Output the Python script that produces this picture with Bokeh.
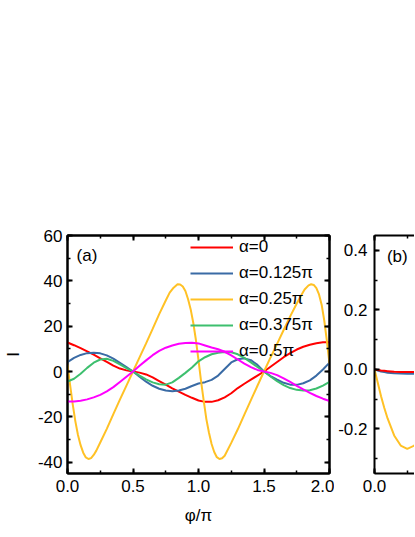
from bokeh.plotting import figure
from bokeh.models import (Range1d, LinearAxis, SingleIntervalTicker, NumeralTickFormatter,
                          CustomJSTickFormatter, Legend, LegendItem, Label)
from bokeh.layouts import row
from bokeh.embed import file_html
from bokeh.resources import INLINE

FONT = "Liberation Sans"

# ---------------- data ----------------
phi_a = [0.00, 0.05, 0.10, 0.15, 0.20, 0.25, 0.30, 0.35, 0.40, 0.45,
         0.50, 0.55, 0.60, 0.65, 0.70, 0.75, 0.80, 0.85, 0.90, 0.95,
         1.00, 1.05, 1.10, 1.15, 1.20, 1.25, 1.30, 1.35, 1.40, 1.45,
         1.50, 1.55, 1.60, 1.65, 1.70, 1.75, 1.80, 1.85, 1.90, 1.95, 2.00]

I_alpha_0 = [12.8, 11.6, 10.3, 8.9, 7.4, 5.8, 4.2, 2.6, 1.3, 0.5,
             0.0, -0.5, -1.3, -2.6, -4.2, -5.8, -7.4, -8.9, -10.3, -11.6,
             -12.8, -13.4, -13.4, -12.7, -11.4, -9.6, -7.3, -5.4, -3.6, -1.8,
             0.0, 2.1, 4.2, 6.3, 8.1, 9.7, 10.9, 11.8, 12.5, 12.9, 12.9]

I_alpha_0125 = [4.1, 6.0, 7.3, 8.1, 8.3, 8.0, 7.1, 5.7, 3.8, 1.9,
                0.0, -2.3, -4.5, -6.3, -7.6, -8.4, -8.7, -8.4, -7.6, -6.4,
                -5.3, -4.7, -3.7, -1.8, 1.1, 4.0, 5.4, 5.8, 5.0, 2.9,
                0.0, -2.0, -3.6, -5.0, -5.8, -5.9, -5.2, -3.9, -1.8, 0.9, 3.9]

I_alpha_0375 = [-4.4, -3.2, -1.0, 1.6, 3.9, 5.3, 5.6, 4.7, 3.1, 1.5,
                0.0, -1.8, -3.5, -4.8, -5.6, -5.8, -4.8, -2.8, -0.6, 1.8,
                4.5, 6.3, 7.6, 8.3, 8.6, 8.5, 7.6, 6.0, 4.0, 2.0,
                0.0, -2.2, -4.3, -6.0, -7.3, -8.1, -8.4, -8.3, -7.5, -6.2, -4.6]

I_alpha_05 = [-13.2, -13.2, -12.9, -12.3, -11.4, -10.3, -8.8, -6.9, -4.6, -2.3,
              0.0, 2.5, 4.9, 7.2, 9.1, 10.5, 11.5, 12.2, 12.6, 12.7,
              12.4, 11.5, 10.6, 9.8, 8.7, 7.1, 5.3, 3.5, 1.9, 0.7,
              0.0, -0.6, -1.6, -3.0, -4.6, -6.3, -7.9, -9.4, -10.8, -12.0, -13.0]

phi_y = [0.00, 0.02, 0.04, 0.06, 0.08, 0.10, 0.12, 0.14, 0.16, 0.18,
         0.20, 0.22, 0.25, 0.30, 0.35, 0.40, 0.45, 0.50, 0.55, 0.60,
         0.65, 0.70, 0.75, 0.78, 0.81, 0.84, 0.86, 0.88, 0.90, 0.92,
         0.94, 0.96, 0.98, 1.00, 1.02, 1.04, 1.06, 1.08, 1.10, 1.12,
         1.14, 1.16, 1.18, 1.20, 1.25, 1.30, 1.35, 1.40, 1.45, 1.50,
         1.55, 1.60, 1.65, 1.70, 1.75, 1.78, 1.81, 1.84, 1.86, 1.88,
         1.90, 1.92, 1.94, 1.96, 1.98, 2.00]

I_alpha_025 = [3.0, -6.0, -14.5, -22.0, -28.0, -32.5, -35.8, -37.9, -38.6, -38.2,
               -36.8, -34.9, -31.3, -25.3, -18.8, -12.4, -6.2, 0.0, 6.2, 12.4,
               18.8, 25.3, 31.3, 34.8, 37.0, 38.5, 38.4, 37.5, 35.5, 32.0,
               27.5, 21.5, 14.0, 5.0, -4.5, -13.0, -21.0, -27.0, -32.0, -35.5,
               -37.8, -38.6, -38.3, -37.2, -31.5, -25.5, -19.0, -12.6, -6.3, 0.0,
               6.2, 12.2, 18.3, 24.3, 30.0, 33.2, 36.2, 38.0, 38.5, 38.2,
               36.8, 34.0, 29.5, 22.5, 13.5, 3.5]

phi_b = [0.00, 0.025, 0.05, 0.075, 0.10, 0.15, 0.20, 0.25, 0.30, 0.35]
Ib_alpha_0 = [0.0, -0.002, -0.004, -0.005, -0.006, -0.008, -0.009, -0.009, -0.009, -0.009]
Ib_alpha_0125 = [0.0, -0.004, -0.007, -0.009, -0.011, -0.013, -0.014, -0.015, -0.015, -0.015]
Ib_alpha_025 = [0.0, -0.045, -0.09, -0.13, -0.165, -0.222, -0.256, -0.267, -0.257, -0.235]

labels = ["\u03b1=0", "\u03b1=0.125\u03c0", "\u03b1=0.25\u03c0", "\u03b1=0.375\u03c0", "\u03b1=0.5\u03c0"]
colors = ["#FF0000", "#3A6BA5", "#FFC125", "#3DBF6E", "#FF00FF"]

# ---------------- styling helpers ----------------
def style_axis(ax, labelled=True, standoff=5):
    ax.axis_line_width = 2
    ax.axis_line_color = "black"
    ax.major_tick_in = 5
    ax.major_tick_out = 0
    ax.minor_tick_in = 3
    ax.minor_tick_out = 0
    ax.major_tick_line_width = 2
    ax.minor_tick_line_width = 1.5
    ax.major_label_text_font = FONT
    ax.major_label_text_font_size = "17px"
    ax.major_label_text_color = "black"
    ax.major_label_standoff = standoff
    ax.axis_label_text_font = FONT
    ax.axis_label_text_font_size = "17px"
    ax.axis_label_text_font_style = "normal"
    ax.axis_label_text_color = "black"
    if not labelled:
        ax.formatter = CustomJSTickFormatter(code="return ''")
        ax.major_label_standoff = 0

# ---------------- panel (a) ----------------
p1 = figure(width=334, height=532, x_range=Range1d(0, 2), y_range=Range1d(-45, 60),
            output_backend="svg", toolbar_location=None,
            min_border_left=67, min_border_right=5, min_border_top=235, min_border_bottom=59)
p1.xgrid.visible = False
p1.ygrid.visible = False
p1.outline_line_color = "black"
p1.outline_line_width = 2
p1.background_fill_color = "white"
p1.border_fill_color = "white"

p1.xaxis[0].ticker = SingleIntervalTicker(interval=0.5, num_minor_ticks=2)
p1.yaxis[0].ticker = SingleIntervalTicker(interval=20, num_minor_ticks=2)
p1.xaxis[0].formatter = NumeralTickFormatter(format="0.0")
p1.yaxis[0].formatter = NumeralTickFormatter(format="0")
p1.xaxis[0].axis_label = "\u03c6/\u03c0"
p1.yaxis[0].axis_label = "I"
style_axis(p1.xaxis[0], standoff=6)
style_axis(p1.yaxis[0], standoff=5)
p1.xaxis[0].axis_label_standoff = 11
p1.yaxis[0].axis_label_standoff = 12

top1 = LinearAxis(ticker=SingleIntervalTicker(interval=0.5, num_minor_ticks=2))
right1 = LinearAxis(ticker=SingleIntervalTicker(interval=20, num_minor_ticks=2))
style_axis(top1, labelled=False)
style_axis(right1, labelled=False)
p1.add_layout(top1, "above")
p1.add_layout(right1, "right")

series_y = [I_alpha_0, I_alpha_0125, I_alpha_025, I_alpha_0375, I_alpha_05]
series_x = [phi_a, phi_a, phi_y, phi_a, phi_a]
renderers = []
for xs, ys, c in zip(series_x, series_y, colors):
    renderers.append(p1.line(x=xs, y=ys, line_color=c, line_width=2))

legend = Legend(items=[LegendItem(label=l, renderers=[r]) for l, r in zip(labels, renderers)],
                location=(123, 109))
legend.background_fill_alpha = 0
legend.border_line_alpha = 0
legend.padding = 0
legend.margin = 0
legend.spacing = 0
legend.glyph_width = 43
legend.glyph_height = 26
legend.label_height = 26
legend.label_standoff = 6
legend.label_text_font = FONT
legend.label_text_font_size = "17px"
legend.label_text_color = "black"
p1.add_layout(legend)

p1.add_layout(Label(x=0.069, y=55.2, text="(a)", text_baseline="top", text_align="left",
                    text_font=FONT, text_font_size="17px", text_color="black"))

# ---------------- panel (b) (cut off at the window edge) ----------------
FWB = 40
p2 = figure(width=40 + FWB, height=532, x_range=Range1d(0, FWB / 131.0), y_range=Range1d(-0.35, 0.45),
            output_backend="svg", toolbar_location=None,
            min_border_left=40, min_border_right=0, min_border_top=235, min_border_bottom=59)
p2.xgrid.visible = False
p2.ygrid.visible = False
p2.outline_line_color = None
p2.background_fill_color = "white"
p2.border_fill_color = "white"
p2.xaxis[0].ticker = SingleIntervalTicker(interval=0.5, num_minor_ticks=2)
p2.yaxis[0].ticker = SingleIntervalTicker(interval=0.2, num_minor_ticks=2)
p2.xaxis[0].formatter = NumeralTickFormatter(format="0.0")
p2.yaxis[0].formatter = NumeralTickFormatter(format="0.0")
style_axis(p2.xaxis[0], standoff=6)
style_axis(p2.yaxis[0], standoff=7)
top2 = LinearAxis(ticker=SingleIntervalTicker(interval=0.5, num_minor_ticks=2))
style_axis(top2, labelled=False)
p2.add_layout(top2, "above")

p2.line(x=phi_b, y=Ib_alpha_0125, line_color=colors[1], line_width=2)
p2.line(x=phi_b, y=Ib_alpha_0, line_color=colors[0], line_width=2)
p2.line(x=phi_b, y=Ib_alpha_025, line_color=colors[2], line_width=2)

p2.add_layout(Label(x=0.095, y=0.41, text="(b)", text_baseline="top", text_align="left",
                    text_font=FONT, text_font_size="17px", text_color="black"))

layout = row(p1, p2)
open("out.html", "w").write(file_html(layout, INLINE))
